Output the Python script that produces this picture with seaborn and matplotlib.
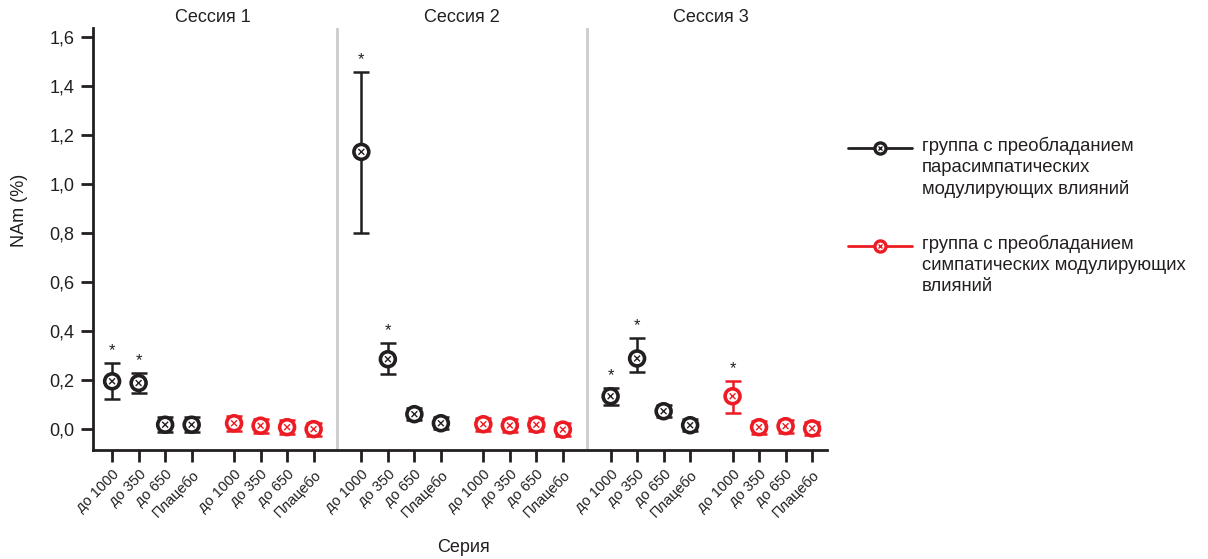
import matplotlib
matplotlib.use("Agg")
import matplotlib.pyplot as plt
from matplotlib.lines import Line2D
import numpy as np
import pandas as pd
import seaborn as sns

# ---- data -----------------------------------------------------------------
sessions = ["Сессия 1", "Сессия 2", "Сессия 3"]
series = ["до 1000", "до 350", "до 650", "Плацебо"]
groups = ["para", "symp"]
group_labels = ["группа с преобладанием\nпарасимпатических\nмодулирующих влияний",
                "группа с преобладанием\nсимпатических модулирующих\nвлияний"]

# mean values, per session: 4 parasympathetic then 4 sympathetic
para_mean = [[0.195, 0.188, 0.018, 0.018],
             [1.130, 0.285, 0.061, 0.024],
             [0.134, 0.288, 0.073, 0.016]]
symp_mean = [[0.024, 0.014, 0.008, 0.000],
             [0.020, 0.015, 0.018, -0.002],
             [0.134, 0.008, 0.012, 0.003]]
para_lo = [[0.122, 0.146, -0.010, -0.010],
           [0.800, 0.224, 0.036, -0.001],
           [0.100, 0.232, 0.048, -0.009]]
para_hi = [[0.268, 0.228, 0.048, 0.048],
           [1.457, 0.350, 0.088, 0.050],
           [0.167, 0.370, 0.098, 0.042]]
symp_lo = [[-0.006, -0.014, -0.020, -0.028],
           [-0.008, -0.012, -0.008, -0.030],
           [0.065, -0.018, -0.014, -0.024]]
symp_hi = [[0.052, 0.042, 0.036, 0.026],
           [0.046, 0.042, 0.044, 0.024],
           [0.195, 0.034, 0.038, 0.028]]
# significance marks (session, group, series)
stars = [(0, "para", "до 1000"), (0, "para", "до 350"),
         (1, "para", "до 1000"), (1, "para", "до 350"),
         (2, "para", "до 1000"), (2, "para", "до 350"),
         (2, "symp", "до 1000")]

colors = {"para": "#231f20", "symp": "#ed1c24"}
TXT = "#231f20"

# ---- long table -----------------------------------------------------------
rows = []
for si in range(len(sessions)):
    for g, m, lo, hi in [("para", para_mean, para_lo, para_hi),
                         ("symp", symp_mean, symp_lo, symp_hi)]:
        for k, s in enumerate(series):
            rows.append(dict(session=si, group=g, series=s, k=k,
                             mean=m[si][k], lo=lo[si][k], hi=hi[si][k]))
df = pd.DataFrame(rows)
# x layout: 4 points per group, gap between groups, wider gap between sessions
SESSION_W = 9.4
df["x"] = df.session * SESSION_W + df.k + np.where(df.group == "symp", 4.6, 0.0)

# ---- plot -----------------------------------------------------------------
sns.set_style("ticks")
plt.rcParams["font.family"] = ["Liberation Sans", "DejaVu Sans"]

fig = plt.figure(figsize=(12.08, 5.59), dpi=100)
ax = fig.add_axes([0.077, 0.195, 0.608, 0.755])

for g in groups:
    d = df[df.group == g]
    ax.errorbar(d.x, d["mean"], yerr=[d["mean"] - d.lo, d.hi - d["mean"]],
                fmt="none", ecolor=colors[g], elinewidth=1.8, capsize=6,
                capthick=1.8, zorder=2)
sns.scatterplot(data=df, x="x", y="mean", hue="group", palette=colors,
                marker="o", s=115, linewidth=2.6, legend=False, ax=ax, zorder=3)
coll = ax.collections[-1]
ec = [colors[g] for g in df.group]
coll.set_facecolors("white")
coll.set_edgecolors(ec)
ax.scatter(df.x, df["mean"], marker="x", s=18, c=ec, linewidths=1.0, zorder=4)

for si, g, s in stars:
    r = df[(df.session == si) & (df.group == g) & (df.series == s)].iloc[0]
    ax.text(r.x, r.hi + 0.02, "*", ha="center", va="bottom", fontsize=12,
            color=TXT)

# session separators and titles
for si in range(1, len(sessions)):
    ax.axvline(si * SESSION_W - 0.9, color="#cccccc", lw=2, zorder=0)
for si, name in enumerate(sessions):
    ax.text(si * SESSION_W + 3.8, 1.004, name, transform=ax.get_xaxis_transform(),
            ha="center", va="bottom", fontsize=13, color=TXT)

ax.set_xlim(-0.72, 26.98)
ax.set_ylim(-0.085, 1.635)
yt = np.arange(0, 1.61, 0.2)
ax.set_yticks(yt)
ax.set_yticklabels([f"{v:.1f}".replace(".", ",") for v in yt], fontsize=13,
                   color=TXT)
ax.set_xticks(df.x)
ax.set_xticklabels(df.series, rotation=45, ha="right", va="top",
                   rotation_mode="anchor", fontsize=10.5, color=TXT)
ax.tick_params(axis="both", length=8.5, width=2, color=TXT)
ax.tick_params(axis="x", pad=4)
ax.tick_params(axis="y", pad=5)
for sp in ["left", "bottom"]:
    ax.spines[sp].set_linewidth(2)
    ax.spines[sp].set_color(TXT)
sns.despine(ax=ax)
ax.set_xlabel("")
ax.set_ylabel("")

fig.text(463 / 1208, 1 - 548 / 559, "Серия", ha="center", va="center",
         fontsize=13, color=TXT)
fig.text(20 / 1208, 1 - 210 / 559, "NAm (%)", ha="center", va="center",
         rotation=90, fontsize=13, color=TXT)

# legend drawn by hand so the handle sits on the first text line
for i, g in enumerate(groups):
    yl = 1 - (148 + 98 * i) / 559
    fig.add_artist(Line2D([848 / 1208, 912 / 1208], [yl, yl], color=colors[g],
                          lw=2, transform=fig.transFigure))
    fig.add_artist(Line2D([880 / 1208], [yl], marker="o", markersize=8,
                          markerfacecolor="white", markeredgewidth=2.4,
                          markeredgecolor=colors[g], transform=fig.transFigure))
    fig.add_artist(Line2D([880 / 1208], [yl], marker="x", markersize=3.5,
                          markeredgewidth=1, color=colors[g],
                          transform=fig.transFigure))
    fig.text(922 / 1208, yl + 11 / 559, group_labels[i], ha="left", va="top",
             fontsize=13.3, color=TXT, linespacing=1.3)

fig.savefig("out.png", dpi=100)
